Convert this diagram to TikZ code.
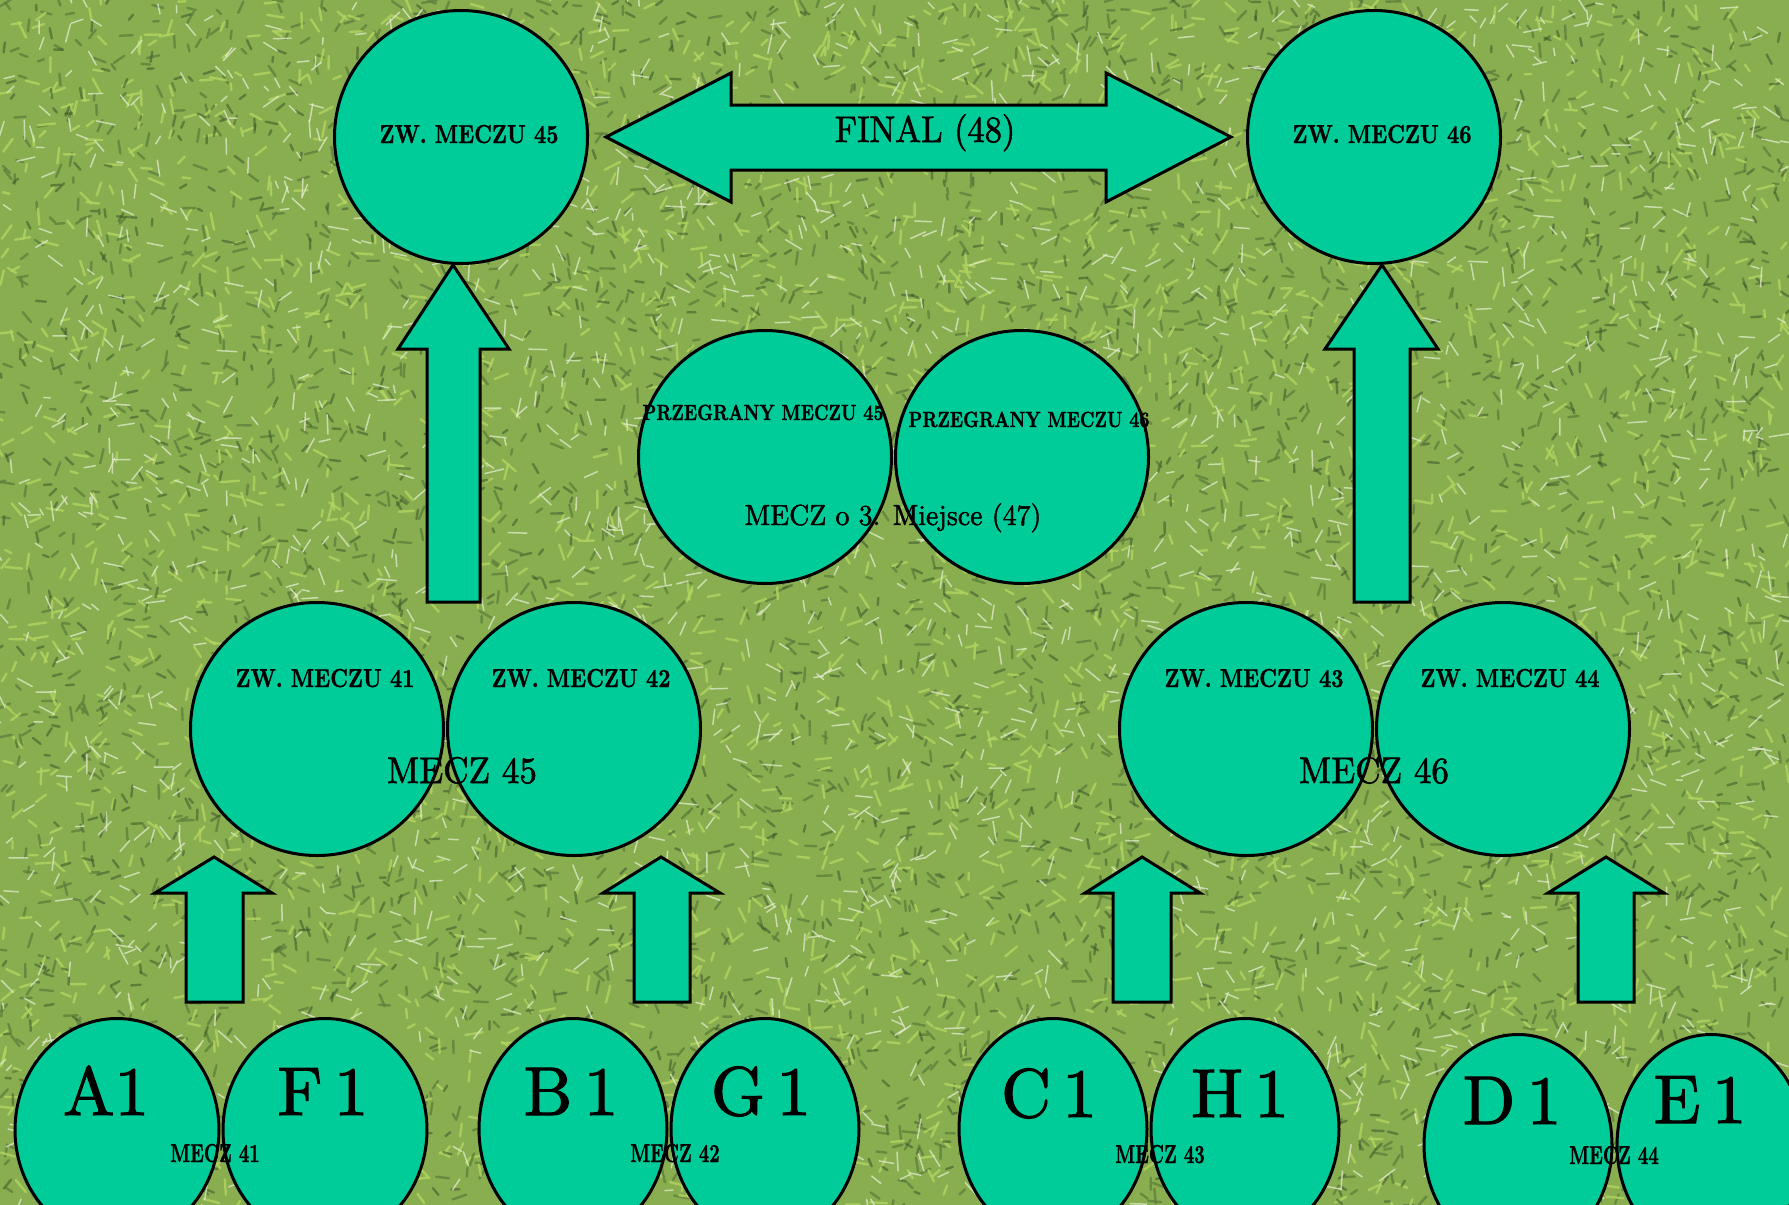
\documentclass[tikz,border=0pt]{standalone}
\usepackage{fontspec}
\usepackage{graphicx}
\usetikzlibrary{shapes.geometric}
\newfontfamily\fbfont{lmroman10-regular.otf}[FakeBold=1.6]
\newfontfamily\fbbfont{lmroman10-bold.otf}[FakeBold=1.2]
\definecolor{ballc}{RGB}{0,204,153}
\definecolor{grassbase}{RGB}{136,174,80}
\definecolor{grassdark}{RGB}{60,86,42}
\definecolor{grassdeep}{RGB}{96,128,60}
\definecolor{grasslight}{RGB}{226,236,204}
\definecolor{grassmid}{RGB}{178,212,96}
\newcommand{\sx}[2]{\scalebox{#1}[1]{#2}}
\begin{document}
\begin{tikzpicture}[x=1pt,y=-1pt,
  ball/.style={circle,draw=black,line width=3pt,fill=ballc,minimum size=253pt,inner sep=0pt},
  egg/.style={ellipse,draw=black,line width=3pt,fill=ballc,inner sep=0pt},
  blk/.style={draw=black,line width=3pt,fill=ballc,line join=miter},
  lbl/.style={anchor=base,inner sep=0pt,text=black},
  small/.style={font=\fbbfont\fontsize{26}{26}\selectfont},
  tiny/.style={font=\fbbfont\fontsize{22}{22}\selectfont},
  mecz/.style={font=\fbbfont\fontsize{26}{26}\selectfont},
  big/.style={font=\fbfont\fontsize{37}{37}\selectfont},
  huge/.style={font=\fbfont\fontsize{69}{69}\selectfont},
  blade/.style={line width=2.4pt,line cap=round}
]
\useasboundingbox (0,0) rectangle (1789,1205);
\clip (0,0) rectangle (1789,1205);
% grass background
\fill[grassbase] (0,0) rectangle (1789,1205);
\pgfmathsetseed{11}
\foreach \i in {1,...,2800}{\draw[blade,grassdeep,opacity=0.8] (1789*rnd,1205*rnd) -- ++(360*rnd:5+10*rnd);}
\foreach \i in {1,...,3000}{\draw[blade,grassmid,opacity=0.8] (1789*rnd,1205*rnd) -- ++(360*rnd:6+12*rnd);}
\foreach \i in {1,...,2000}{\draw[blade,grassdark,opacity=0.55] (1789*rnd,1205*rnd) -- ++(360*rnd:4+8*rnd);}
\foreach \i in {1,...,2400}{\draw[line width=1.5pt,line cap=round,grasslight,opacity=0.75] (1789*rnd,1205*rnd) -- ++(360*rnd:6+14*rnd);}

% top row
\node[ball] (z45) at (461,137) {};
\node[ball] (z46) at (1374,137) {};
\draw[blk] (606,137) -- (731,73) -- (731,105) -- (1106,105) -- (1106,73) -- (1231,137)
  -- (1106,202) -- (1106,170) -- (731,170) -- (731,202) -- cycle;

% big up arrows
\draw[blk] (427,602) -- (427,349) -- (398,349) -- (453,265) -- (509,349) -- (480,349) -- (480,602) -- cycle;
\draw[blk] (1354,602) -- (1354,349) -- (1325,349) -- (1382,265) -- (1438,349) -- (1410,349) -- (1410,602) -- cycle;

% third place
\node[ball] (p45) at (765,457) {};
\node[ball] (p46) at (1022,457) {};

% middle row
\node[ball] (z41) at (317,729) {};
\node[ball] (z42) at (574,729) {};
\node[ball] (z43) at (1246,729) {};
\node[ball] (z44) at (1503,729) {};

% small up arrows
\draw[blk] (186,1002) -- (186,893) -- (155,893) -- (214,857) -- (272,893) -- (243,893) -- (243,1002) -- cycle;
\draw[blk] (634,1002) -- (634,893) -- (603,893) -- (661,857) -- (720,893) -- (690,893) -- (690,1002) -- cycle;
\draw[blk] (1113,1002) -- (1113,893) -- (1085,893) -- (1142,857) -- (1200,893) -- (1171,893) -- (1171,1002) -- cycle;
\draw[blk] (1578,1002) -- (1578,893) -- (1548,893) -- (1606,857) -- (1664,893) -- (1634,893) -- (1634,1002) -- cycle;

% bottom row
\node[egg,minimum width=204pt,minimum height=223pt] (a1) at (117,1130) {};
\node[egg,minimum width=204pt,minimum height=223pt] (f1) at (325,1130) {};
\node[egg,minimum width=188pt,minimum height=221pt] (b1) at (573,1129) {};
\node[egg,minimum width=188pt,minimum height=221pt] (g1) at (765,1129) {};
\node[egg,minimum width=188pt,minimum height=221pt] (c1) at (1053,1129) {};
\node[egg,minimum width=188pt,minimum height=221pt] (h1) at (1245,1129) {};
\node[egg,minimum width=188pt,minimum height=221pt] (d1) at (1518,1145) {};
\node[egg,minimum width=188pt,minimum height=221pt] (e1) at (1711,1145) {};

% labels
\node[lbl,small] (tz45) at (469,143) {\sx{0.82}{ZW. MECZU 45}};
\node[lbl,small] (tz46) at (1382,143) {\sx{0.82}{ZW. MECZU 46}};
\node[lbl,big] (tfin) at (925,142) {\sx{0.93}{FINAL (48)}};
\node[lbl,tiny] (tp45) at (763,420) {\sx{0.8}{PRZEGRANY MECZU 45}};
\node[lbl,tiny] (tp46) at (1029,427) {\sx{0.8}{PRZEGRANY MECZU 46}};
\node[lbl,font=\fbfont\fontsize{29}{29}\selectfont] (t47) at (893,525) {\sx{0.96}{MECZ o 3. Miejsce (47)}};
\node[lbl,small] (tz41) at (325,687) {\sx{0.82}{ZW. MECZU 41}};
\node[lbl,small] (tz42) at (581,687) {\sx{0.82}{ZW. MECZU 42}};
\node[lbl,small] (tz43) at (1254,687) {\sx{0.82}{ZW. MECZU 43}};
\node[lbl,small] (tz44) at (1510,687) {\sx{0.82}{ZW. MECZU 44}};
\node[lbl,big] (tm45) at (462,783) {\sx{0.95}{MECZ 45}};
\node[lbl,big] (tm46) at (1374,783) {\sx{0.95}{MECZ 46}};
\node[lbl,huge] (ta1) at (106,1115) {A1};
\node[lbl,huge] (tf1) at (323,1115) {F\,1};
\node[lbl,huge] (tb1) at (571,1115) {B\,1};
\node[lbl,huge] (tg1) at (761,1115) {G\,1};
\node[lbl,huge] (tc1) at (1049,1117) {C\,1};
\node[lbl,huge] (th1) at (1240,1117) {H\,1};
\node[lbl,huge] (td1) at (1512,1124) {D\,1};
\node[lbl,huge] (te1) at (1700,1123) {E\,1};
\node[lbl,mecz] (tm41) at (215,1162) {\sx{0.7}{MECZ 41}};
\node[lbl,mecz] (tm42) at (675,1162) {\sx{0.7}{MECZ 42}};
\node[lbl,mecz] (tm43) at (1160,1163) {\sx{0.7}{MECZ 43}};
\node[lbl,mecz] (tm44) at (1614,1164) {\sx{0.7}{MECZ 44}};
\end{tikzpicture}
\end{document}
